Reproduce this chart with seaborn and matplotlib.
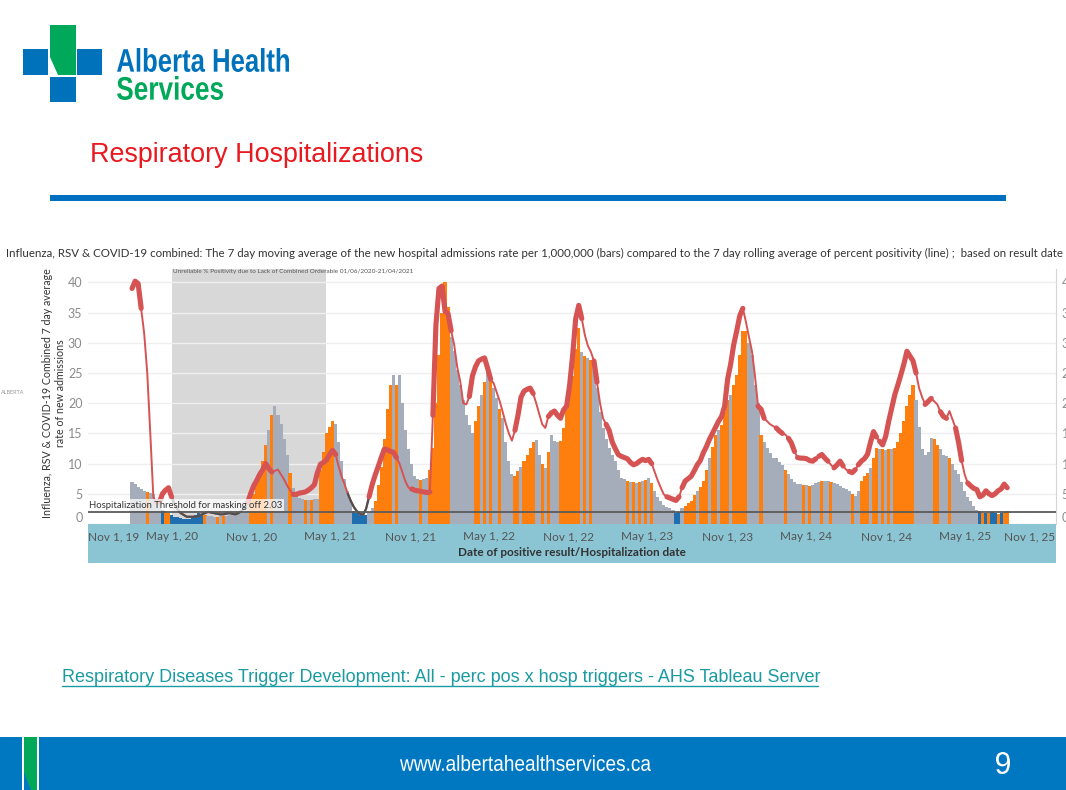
import matplotlib
matplotlib.use("Agg")
import numpy as np
import pandas as pd
import matplotlib.pyplot as plt
from matplotlib.patches import Rectangle, Polygon, PathPatch
from matplotlib.textpath import TextPath
from matplotlib.font_manager import FontProperties
from matplotlib.transforms import Affine2D, IdentityTransform, ScaledTranslation
from matplotlib.lines import Line2D
import seaborn as sns

# ----------------------------------------
# Data (weekly)
# ----------------------------------------
first_week = "2020-01-30"

# 7 day average admissions rate per 1,000,000 (bars)
admissions = [
    6.9, 6.6, 6.2, 5.8, 5.5, 5.3, 5.1, 5.0, 4.2, 3.3,
    2.4, 2.1, 1.8, 1.5, 1.2, 1.1, 1.0, 0.9, 0.9, 0.9, 1.2, 1.5, 1.8, 1.7, 1.5,
    1.4, 1.3, 1.2, 1.2, 1.3, 1.3, 1.4, 1.5, 1.6, 1.7, 1.8, 1.9,
    2.0, 3.0, 4.2, 5.0, 7.0, 8.5, 10.5, 13.0, 15.5, 18.0, 19.6,
    18.0, 16.5, 14.0, 11.5, 8.5, 6.0, 5.0, 4.3, 4.1, 4.0, 4.0, 4.0, 4.1, 4.2,
    9.0, 12.0, 15.0, 16.0, 17.0, 16.5,
    13.5, 10.4, 7.5, 5.5, 4.0, 2.2, 1.9, 1.5, 1.3, 1.5, 2.0, 2.7, 3.8,
    6.5, 9.5, 14.0, 19.0, 23.0, 24.7, 23.0, 24.7, 20.0, 15.5, 12.5, 10.0,
    7.9, 7.4, 7.3, 7.5, 7.6, 9.0, 12.6,
    20.0, 28.0, 35.0, 40.1, 36.0, 31.0,
    28.6, 25.5, 23.0, 20.5, 18.0, 16.4, 15.0,
    17.0, 19.5, 21.4, 23.5, 25.2, 24.0, 22.5, 20.8,
    19.0, 17.5, 13.5, 10.5, 8.2, 8.0, 8.7, 9.5, 10.4, 11.5, 12.6,
    13.5, 13.9, 11.5, 10.0, 9.3, 12.0, 14.8, 13.7, 13.5, 13.7, 15.9,
    19.0, 22.0, 24.5, 29.0, 32.4, 28.5, 27.8, 27.5,
    27.2, 27.0, 22.5, 18.5, 15.9, 14.0, 12.6, 11.5, 10.4, 9.0,
    7.6, 7.4, 7.1, 7.0, 6.9, 6.8, 6.9, 7.1, 7.3, 7.6, 6.8, 5.4,
    4.5, 3.8, 3.2, 2.8, 2.7, 2.3, 1.9, 2.0, 2.7, 3.0, 3.4, 3.8,
    4.8, 5.4, 6.2, 7.1, 9.0, 10.9, 12.8, 14.8, 15.5, 16.4, 18.5, 20.5, 21.4,
    23.0, 24.7, 28.0, 31.9, 32.0, 30.0, 28.0, 23.0,
    20.0, 14.8, 13.5, 12.6, 11.8, 11.0, 10.9, 10.3, 9.8, 9.0, 8.2, 7.5, 7.0,
    6.6, 6.6, 6.5, 6.4,
    6.3, 6.5, 6.8, 7.0, 7.1, 7.1, 7.1, 7.0, 6.8, 6.6, 6.3, 6.0, 5.8, 5.5, 5.0, 4.7,
    5.5, 7.1, 8.0, 8.5, 9.3, 11.0, 12.6, 12.5, 12.4, 12.3, 12.4, 12.5, 12.6,
    13.5, 15.0, 17.0, 19.5, 21.4,
    23.0, 20.5, 16.0, 12.5, 11.5, 12.0, 14.2, 14.0, 13.1, 12.5, 11.5, 11.2, 10.9, 10.0,
    9.0, 8.2, 7.0, 5.5, 4.5, 3.8, 3.0, 2.4, 2.1, 1.9, 1.8, 1.8, 2.0, 1.9, 1.7, 1.8, 2.0, 2.1,
]
# O = trigger met, G = no trigger, B = below hospitalization threshold
bar_status = (
    "GGGGGOGGGG" "BOOBBBBBBBBBBBO" "GGGOGOGGGGGG" "GGOOOOOOGOG" "GGGGOGGGGOGOGG"
    "OOOOOG" "GGGGGBBBBBGGO" "OOOOOGOGGGGG" "GGOGGOO" "OOOOOG" "GGGGGGG" "OOGOGOGG"
    "OGGGGOOGOOO" "OGGOGOGGGOO" "OOOOOGOG" "OGGGGGGGGG" "GGOGOGOGOGOG" "GGGGGGBBGOOO"
    "OGOOOGOOGOOOGOOOOOGGG" "GOGGGGGGGOGGGGGOG" "OGGGOGGOGGGGGGOG" "GOOOGOOGOGOGOOOOOO"
    "OGGGGGGOOGGGOG" "GGGGGGGGBOBOBBOBOO"
)

# 7 day rolling average percent positivity (line)
positivity = [
    39.0, 40.2, 39.8, 35.7, 31.5, 25.0, 15.0, 4.5, 3.3, 3.6,
    5.0, 5.6, 6.0, 4.5, 3.2, 2.4, 1.8, 1.5, 1.2, 1.2, 1.2, 1.2, 1.4, 1.6, 1.8,
    2.0, 1.9, 1.8, 1.7, 1.6, 1.6, 1.7, 1.8, 1.7, 1.6, 1.8, 2.2,
    2.6, 3.5, 5.0, 6.3, 7.2, 8.2, 9.0, 10.0, 9.2, 8.6, 8.8,
    9.0, 8.2, 7.4, 6.4, 5.6, 4.9, 4.9, 5.1, 5.2, 5.3, 5.6, 6.0, 6.5, 8.5,
    9.9, 10.2, 10.6, 11.5, 12.2, 11.5,
    9.5, 7.8, 6.5, 5.0, 3.8, 2.8, 2.1, 1.7, 1.5, 2.5, 4.5, 6.5, 8.1,
    9.5, 11.0, 12.4, 12.3, 12.0, 11.9, 11.0, 10.0, 8.5, 7.0, 6.0, 5.8,
    5.6, 5.5, 5.4, 5.3, 5.2, 5.3, 18.0,
    33.0, 39.0, 39.4, 35.2, 34.8, 32.0,
    29.7, 26.0, 23.6, 20.0, 19.8, 21.1, 24.5,
    26.0, 27.0, 27.3, 27.5, 25.8, 24.0, 23.3, 21.8,
    20.3, 18.5, 16.6, 15.0, 13.8, 15.5, 18.0, 21.0, 22.0, 22.3, 22.5,
    21.6, 20.0, 18.2, 16.5, 15.9, 17.8, 18.4, 18.7, 18.0, 17.5, 18.9,
    19.5, 23.0, 28.0, 34.0, 36.2, 34.0, 31.3, 29.5,
    28.5, 27.0, 23.5, 20.0, 17.5, 16.5, 15.5, 13.6, 12.5, 11.5,
    11.2, 11.0, 10.8, 10.2, 9.8, 10.0, 10.4, 10.7, 10.5, 10.7, 10.0, 8.6,
    7.2, 6.0, 4.9, 4.5, 4.3, 4.1, 3.9, 4.5, 6.0, 7.1, 7.5, 7.9,
    8.8, 9.8, 10.5, 11.8, 12.8, 14.0, 15.0, 16.0, 17.0, 17.8, 19.5, 24.0, 26.5,
    29.7, 32.0, 34.5, 35.7, 33.5, 31.0, 28.6, 24.5,
    19.5, 19.0, 17.5, 17.0, 16.5, 16.2, 15.9, 15.4, 15.0, 14.8, 14.2, 13.4, 12.0,
    11.0, 10.9, 10.9, 10.8,
    10.5, 10.4, 10.8, 11.2, 11.5, 10.9, 10.4, 9.8, 9.3, 9.8, 10.4, 9.6, 9.0, 8.7, 8.5, 9.0,
    9.8, 10.4, 10.8, 11.5, 13.5, 15.3, 14.4, 13.7, 13.1, 14.5, 17.0, 19.2, 21.4,
    23.0, 24.7, 26.5, 28.6, 27.8,
    27.0, 25.0, 22.5, 21.0, 19.8, 20.3, 20.8, 20.3, 19.8, 18.6, 17.8, 17.5, 18.7, 17.3,
    15.9, 13.5, 10.5, 8.2, 6.8, 6.3, 5.9, 5.7, 4.5, 4.8, 5.5, 5.0, 4.7, 5.0, 5.5, 5.8, 6.6, 6.0,
]
# T = trigger met, N = no trigger, U = low / unreliable
line_status = (
    "TTTNNNNNNT" "TTTUUUUUUUUUUUU" "UUUUUUUUUUUU" "UTTTTTTTTNN" "NNNNNTTTTTTTTT"
    "TTTTTN" "NNNUUUUUUUTTT" "TTTTTTNNNNNT" "TTTTTNT" "TTTTTN" "NNNNNTT" "TTTTTNNN"
    "NNNNNTTTTTT" "NNNNNTTTTTT" "TTTTTNNN" "NTNNNTTTTT" "TTTTTTTTTTNN" "NNNTTTTNTTTT"
    "TTTTTTTTTTTTTTTTNNNNN" "TTNNNNTTNNTTNTTTT" "TTNTTTNNTTTNNTTN" "TTTTTTNTTTTTTTTTTT"
    "TNNNTTNNNTTNNN" "TTNNTTTTTTTTTTTTTT"
)

assert len(admissions) == len(bar_status) == len(positivity) == len(line_status)

shade_start, shade_end = "2020-05-01", "2021-04-21"
threshold = 2.03
y_ticks = [0, 5, 10, 15, 20, 25, 30, 35, 40]
tick_dates = ["2019-11-01", "2020-05-01", "2020-11-01", "2021-05-01", "2021-11-01",
              "2022-05-01", "2022-11-01", "2023-05-01", "2023-11-01", "2024-05-01",
              "2024-11-01", "2025-05-01", "2025-11-01"]
tick_labels = ["Nov 1, 19", "May 1, 20", "Nov 1, 20", "May 1, 21", "Nov 1, 21",
               "May 1, 22", "Nov 1, 22", "May 1, 23", "Nov 1, 23", "May 1, 24",
               "Nov 1, 24", "May 1, 25", "Nov 1, 25"]

# ----------------------------------------
# Colours
# ----------------------------------------
ORANGE = "#FF7F0E"
GREY_BAR = "#A4ADB9"
BLUE_BAR = "#1F6FB0"
RED = "#D65353"
DARK = "#4F4F4F"
AHS_BLUE = "#0072BC"
AHS_GREEN = "#00A859"
bar_colours = {"O": ORANGE, "G": GREY_BAR, "B": BLUE_BAR}

W, H = 1066, 790

sns.set_style("white")
plt.rcParams["font.family"] = ["Lato", "DejaVu Sans"]

fig = plt.figure(figsize=(W / 100, H / 100), dpi=100)
renderer = fig.canvas.get_renderer()


def fx(x):
    return x / W


def fy(y):
    return 1 - y / H


def fit_text(t, target, along="width"):
    # a few passes, text width is not quite linear in font size
    for _ in range(4):
        bb = t.get_window_extent(renderer)
        size = bb.width if along == "width" else bb.height
        t.set_fontsize(t.get_fontsize() * target / size)


def rect(x0, y0, x1, y1, color, z=1):
    fig.add_artist(Rectangle((fx(x0), fy(y1)), fx(x1) - fx(x0), fy(y0) - fy(y1),
                             transform=fig.transFigure, facecolor=color, lw=0, zorder=z))


def box_text(s, x0, y0, x1, y1, color, weight="bold", family="Liberation Sans"):
    # text squeezed into a pixel box (used for the condensed logo lettering)
    tp = TextPath((0, 0), s, size=100, prop=FontProperties(family=family, weight=weight))
    e = tp.get_extents()
    tr = Affine2D().translate(-e.x0, -e.y0).scale((x1 - x0) / e.width, (y1 - y0) / e.height)
    tr = tr.translate(x0, H - y1)
    fig.add_artist(PathPatch(tr.transform_path(tp), facecolor=color, lw=0,
                             transform=IdentityTransform(), zorder=3))


# ----------------------------------------
# Slide decoration
# ----------------------------------------
# logo
rect(23, 49, 48, 75, AHS_BLUE)
rect(77, 49, 102, 75, AHS_BLUE)
rect(50, 77, 76, 102, AHS_BLUE)
fig.add_artist(Polygon([(fx(50), fy(25)), (fx(76), fy(25)), (fx(76), fy(75)),
                        (fx(58), fy(75)), (fx(50), fy(57))],
                       transform=fig.transFigure, facecolor=AHS_GREEN, lw=0))
box_text("Alberta Health", 117, 48, 289, 72, AHS_BLUE)
box_text("Services", 117, 76, 223, 100, AHS_GREEN)

t = fig.text(fx(90), fy(155), "Respiratory Hospitalizations", color="#E8191F",
             fontsize=18, family="Liberation Sans", va="center", ha="left")
fit_text(t, 332)
rect(50, 195, 1006, 201, "#0070C0")

# footer
rect(0, 737, W, H, "#0078C1")
rect(22, 737, 24, H, "white", z=2)
rect(37, 737, 39, H, "white", z=2)
fig.add_artist(Polygon([(fx(24), fy(737)), (fx(37), fy(737)), (fx(37), fy(H)),
                        (fx(31), fy(H)), (fx(24), fy(772))],
                       transform=fig.transFigure, facecolor=AHS_GREEN, lw=0, zorder=2))
box_text("www.albertahealthservices.ca", 400, 755, 651, 771, "white", weight="normal")
box_text("9", 996, 752, 1010, 774, "white", weight="normal")

# link
t = fig.text(fx(62), fy(678), "Respiratory Diseases Trigger Development: All - perc pos x hosp triggers - AHS Tableau Server",
             color="#1A9BA1", fontsize=12, family="Liberation Sans", va="center", ha="left")
fit_text(t, 756)
fig.add_artist(Line2D([fx(62), fx(818)], [fy(686), fy(686)], transform=fig.transFigure,
                      color="#1A9BA1", lw=1))

# ----------------------------------------
# Chart
# ----------------------------------------
dates = pd.date_range(first_week, periods=len(admissions), freq="7D")
origin = pd.Timestamp("2020-05-01")
px_per_day = 0.4341

ax = fig.add_axes([fx(88), fy(524), fx(1056) - fx(88), fy(269) - fy(524)])
ax.set_xlim(origin - pd.Timedelta(days=(172 - 88) / px_per_day),
            origin + pd.Timedelta(days=(1056 - 172) / px_per_day))
ax.set_ylim(0, (524 - 269) / 6.04)

# band behind x axis
rect(88, 523, 1056, 563, "#8BC4D3", z=-1)

ax.axvspan(pd.Timestamp(shade_start), pd.Timestamp(shade_end), color="#D8D8D8", lw=0, zorder=0)
ax.set_axisbelow(True)
ax.yaxis.grid(True, color="#EFEFEF", lw=1.0)
ax.xaxis.grid(False)

ax.bar(dates, admissions, width=7.3, color=[bar_colours[c] for c in bar_status],
       linewidth=0, zorder=2)

# percent positivity line: thin base, then low/unreliable and trigger segments
sns.lineplot(x=dates, y=positivity, estimator=None, color=RED, lw=1.4, ax=ax, zorder=3)
vals = np.array(positivity)
n = len(vals)
i = 0
while i < n:
    j = i
    while j + 1 < n and line_status[j + 1] == line_status[i]:
        j += 1
    seg = slice(i, min(j + 2, n))
    if line_status[i] == "U":
        ax.plot(dates[seg], vals[seg], color=DARK, lw=1.6, zorder=3.5, solid_capstyle="round")
    elif line_status[i] == "T":
        ax.plot(dates[seg], vals[seg], color=RED, lw=3.7, zorder=3.6,
                solid_capstyle="round", solid_joinstyle="round")
    i = j + 1

ax.axhline(threshold, color="#5A5A5A", lw=1.3, zorder=4)

for side in ["top", "left", "bottom"]:
    ax.spines[side].set_visible(False)
ax.spines["right"].set_color("#D5D5D5")

ax.set_yticks(y_ticks, labels=[str(v) for v in y_ticks])
ax.tick_params(axis="y", length=0, labelsize=9, labelcolor="#8C8C8C", pad=4,
               labelright=True)
zero_tick = ax.yaxis.get_major_ticks()[0]
zero_tick.label1.set_va("bottom")
zero_tick.label2.set_va("bottom")

ax.set_xticks(pd.to_datetime(tick_dates), labels=tick_labels)
ax.tick_params(axis="x", length=0, labelsize=8.5, labelcolor="#555555", pad=5)
xlabels = ax.get_xticklabels()
xlabels[0].set_ha("left")
xlabels[0].set_transform(xlabels[0].get_transform() + ScaledTranslation(-0.05, 0, fig.dpi_scale_trans))
xlabels[-1].set_ha("right")
xlabels[-1].set_transform(xlabels[-1].get_transform() + ScaledTranslation(0.11, 0, fig.dpi_scale_trans))
ax.set_xlabel("")
ax.set_ylabel("")

fig.text(fx(572), fy(553), "Date of positive result/Hospitalization date", ha="center", va="center",
         fontsize=8.5, fontweight="bold", color="#333333")

t = fig.text(fx(54), fy(393), "Influenza, RSV & COVID-19 Combined 7 day average\nrate of new admissions",
             rotation=90, ha="center", va="center", multialignment="center",
             fontsize=9, color="#333333", linespacing=1.15)
fit_text(t, 250, along="height")

t = fig.text(fx(89), fy(505), "Hospitalization Threshold for masking off 2.03", ha="left", va="center",
             fontsize=8, color="#333333", zorder=6,
             bbox=dict(boxstyle="square,pad=0.15", facecolor="white", edgecolor="none", alpha=0.75))
fit_text(t, 193)

t = fig.text(fx(173), fy(271), "Unreliable % Positivity due to Lack of Combined Orderable 01/06/2020-21/04/2021",
             ha="left", va="center", fontsize=5, color="#555555", zorder=6)
fit_text(t, 242)

t = fig.text(fx(1063), fy(253),
             "Influenza, RSV & COVID-19 combined: The 7 day moving average of the new hospital admissions rate "
             "per 1,000,000 (bars) compared to the 7 day rolling average of percent positivity (line) ;  based on result date",
             ha="right", va="center", fontsize=8, color="#333333")
fit_text(t, 1068)

fig.text(fx(1), fy(393), "ALBERTA", ha="left", va="center", fontsize=4, color="#999999")

fig.savefig("out.png", dpi=100)
